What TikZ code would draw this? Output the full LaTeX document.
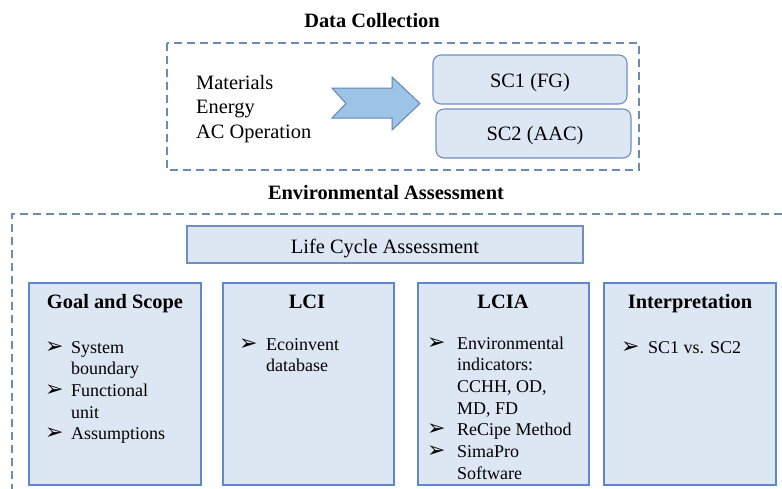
\documentclass[tikz,border=0pt]{standalone}
\usepackage{fontspec}
\setmainfont{Liberation Serif}
\newfontfamily\dingfont{DejaVu Sans}
\definecolor{dashblue}{HTML}{6A8BB3}
\definecolor{boxfill}{HTML}{DDE7F4}
\definecolor{boxedge}{HTML}{6F90BC}
\definecolor{stageedge}{HTML}{5F87D0}
\definecolor{arrowfill}{HTML}{9DC3E6}
\definecolor{arrowedge}{HTML}{5B87B8}
\tikzset{
  frame/.style={draw=dashblue, line width=1.2pt, dash pattern=on 8pt off 5pt},
  scbox/.style={draw=boxedge, fill=boxfill, line width=1.1pt, rounded corners=8pt},
  lcabox/.style={draw=boxedge, fill=boxfill, line width=1.3pt},
  stagebox/.style={draw=stageedge, fill=boxfill, line width=1.8pt},
  heading/.style={font=\fontsize{20.4}{24}\selectfont\bfseries, inner sep=0pt},
  plain/.style={font=\fontsize{20.4}{24}\selectfont, inner sep=0pt},
  listtext/.style={font=\fontsize{18}{21.7}\selectfont, inner sep=0pt, anchor=base west},
  bulletmark/.style={font=\dingfont\fontsize{22}{24}\selectfont, inner sep=0pt, anchor=base west},
}
\begin{document}
\begin{tikzpicture}[x=1pt,y=-1pt]
\useasboundingbox (0,0) rectangle (782,488);

% ---------- Data collection ----------
\node[heading, anchor=base] (dctitle) at (372,27) {Data Collection};
\draw[frame] (167,43) rectangle (639,170);

\node[plain, anchor=base west] (mat) at (196,89) {Materials};
\node[plain, anchor=base west] (ene) at (196,113) {Energy};
\node[plain, anchor=base west] (acop) at (196,138) {AC Operation};

% block arrow with notched tail
\coordinate (a1) at (332,88);
\coordinate (a2) at (392,88);
\coordinate (a3) at (392,77);
\coordinate (a4) at (420,103.5);
\coordinate (a5) at (392,130);
\coordinate (a6) at (392,118);
\coordinate (a7) at (332,118);
\coordinate (a8) at (346,103.5);
\draw[draw=arrowedge, fill=arrowfill, line width=1pt, line join=miter]
  (a1) -- (a2) -- (a3) -- (a4) -- (a5) -- (a6) -- (a7) -- (a8) -- cycle;

\draw[scbox] (433,55) rectangle (627,104);
\node[plain, anchor=base] (sc1) at (530,87) {SC1 (FG)};
\draw[scbox] (436,109) rectangle (631,158);
\node[plain, anchor=base] (sc2) at (535,140) {SC2 (AAC)};

% ---------- Environmental assessment ----------
\node[heading, anchor=base] (eatitle) at (386,199) {Environmental Assessment};
\draw[frame] (795,214) -- (12,214) -- (12,500);

\draw[lcabox] (187,226) rectangle (583,263);
\node[plain, anchor=base] (lca) at (385,253) {Life Cycle Assessment};

% stage boxes
\draw[stagebox] (29,283) rectangle (201,485);
\draw[stagebox] (223,283) rectangle (394,485);
\draw[stagebox] (418,283) rectangle (589,485);
\draw[stagebox] (604,283) rectangle (776,485);

\node[heading, anchor=base] (gs) at (115,308) {Goal and Scope};
\node[heading, anchor=base] (lci) at (307,308) {LCI};
\node[heading, anchor=base] (lcia) at (503,308) {LCIA};
\node[heading, anchor=base] (interp) at (690,308) {Interpretation};

% Goal and Scope items
\node[bulletmark] (gb1) at (45,353) {➢};
\node[listtext] (g1) at (71,353) {System};
\node[listtext] (g2) at (71,374.7) {boundary};
\node[bulletmark] (gb2) at (45,396.4) {➢};
\node[listtext] (g3) at (71,396.4) {Functional};
\node[listtext] (g4) at (71,418.1) {unit};
\node[bulletmark] (gb3) at (45,439.8) {➢};
\node[listtext] (g5) at (71,439.8) {Assumptions};

% LCI items
\node[bulletmark] (lb1) at (239,350) {➢};
\node[listtext] (l1) at (266,350) {Ecoinvent};
\node[listtext] (l2) at (266,371.7) {database};

% LCIA items
\node[bulletmark] (ib1) at (427,349) {➢};
\node[listtext] (i1) at (457,349) {Environmental};
\node[listtext] (i2) at (457,370.7) {indicators:};
\node[listtext] (i3) at (457,392.4) {CCHH, OD,};
\node[listtext] (i4) at (457,414.1) {MD, FD};
\node[bulletmark] (ib2) at (427,435.8) {➢};
\node[listtext] (i5) at (457,435.8) {ReCipe Method};
\node[bulletmark] (ib3) at (427,457.5) {➢};
\node[listtext] (i6) at (457,457.5) {SimaPro};
\node[listtext] (i7) at (457,479.2) {Software};

% Interpretation items
\node[bulletmark] (pb1) at (621,353) {➢};
\node[listtext] (p1) at (648,353) {SC1 vs. SC2};
\end{tikzpicture}
\end{document}
